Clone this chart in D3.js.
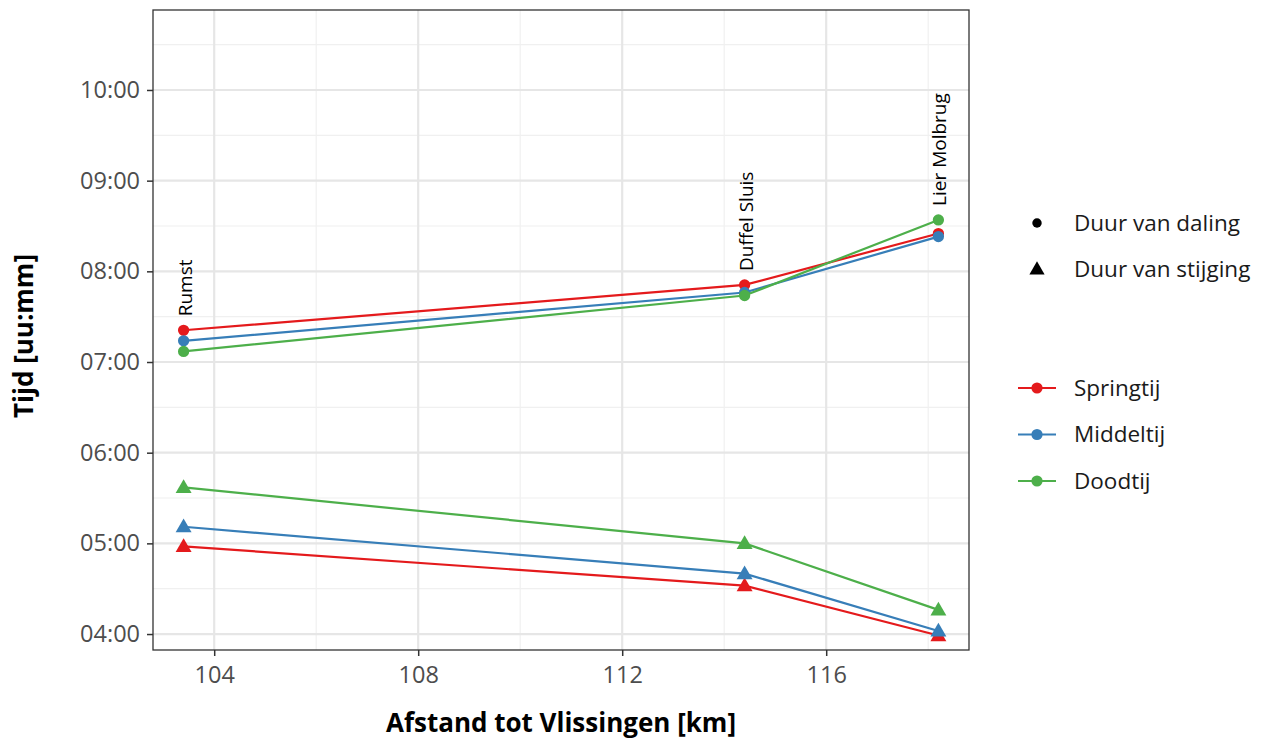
<!DOCTYPE html>
<html lang="nl">
<head>
<meta charset="utf-8">
<title>Duur van daling en stijging</title>
<script src="https://d3js.org/d3.v7.min.js"></script>
<style>
  body { margin: 0; background: #fff; }
  svg text { font-family: "Open Sans", "Noto Sans", sans-serif; }
</style>
</head>
<body>
<script>
// data: afstand (km) per meetpunt, tijden als uu:mm
var stations = ["Rumst", "Duffel Sluis", "Lier Molbrug"];
var km = [103.4, 114.4, 118.2];
var tides = ["Springtij", "Middeltij", "Doodtij"];
var tideColors = ["#E41A1C", "#377EB8", "#4DAF4A"];
var types = ["Duur van daling", "Duur van stijging"];

var dalingSpring = ["7:21", "7:51", "8:25"];
var dalingMiddel = ["7:14", "7:46", "8:23"];
var dalingDood   = ["7:07", "7:44", "8:34"];
var stijgingSpring = ["4:58", "4:32", "3:59"];
var stijgingMiddel = ["5:11", "4:40", "4:02"];
var stijgingDood   = ["5:37", "5:00", "4:16"];

var xTicks = [104, 108, 112, 116];
var yTicks = ["04:00", "05:00", "06:00", "07:00", "08:00", "09:00", "10:00"];

function toHours(s) {
  var p = s.split(":");
  return +p[0] + (+p[1]) / 60;
}

var series = [
  {tide: 0, type: 0, vals: dalingSpring},
  {tide: 1, type: 0, vals: dalingMiddel},
  {tide: 2, type: 0, vals: dalingDood},
  {tide: 0, type: 1, vals: stijgingSpring},
  {tide: 1, type: 1, vals: stijgingMiddel},
  {tide: 2, type: 1, vals: stijgingDood}
];
series.forEach(function(s) {
  s.points = s.vals.map(function(v, i) { return {x: km[i], y: toHours(v)}; });
});

var W = 1266, H = 745;
var panel = {left: 153, top: 10, right: 969, bottom: 650};

var x = d3.scaleLinear().domain([102.8, 118.8]).range([panel.left, panel.right]);
var y = d3.scaleLinear().domain([3.824, 10.882]).range([panel.bottom, panel.top]);

var svg = d3.select("body").append("svg").attr("width", W).attr("height", H);

// grid
var grid = svg.append("g");
var minorY = d3.range(4.5, 10.6, 1);
var minorX = [106, 110, 114, 118];
grid.selectAll(".my").data(minorY).enter().append("line")
  .attr("x1", panel.left).attr("x2", panel.right)
  .attr("y1", function(d) { return y(d); }).attr("y2", function(d) { return y(d); })
  .attr("stroke", "#f0f0f0").attr("stroke-width", 1.2);
grid.selectAll(".mx").data(minorX).enter().append("line")
  .attr("y1", panel.top).attr("y2", panel.bottom)
  .attr("x1", function(d) { return x(d); }).attr("x2", function(d) { return x(d); })
  .attr("stroke", "#f0f0f0").attr("stroke-width", 1.2);
grid.selectAll(".gy").data(yTicks).enter().append("line")
  .attr("x1", panel.left).attr("x2", panel.right)
  .attr("y1", function(d) { return y(toHours(d)); }).attr("y2", function(d) { return y(toHours(d)); })
  .attr("stroke", "#e6e6e6").attr("stroke-width", 2.2);
grid.selectAll(".gx").data(xTicks).enter().append("line")
  .attr("y1", panel.top).attr("y2", panel.bottom)
  .attr("x1", function(d) { return x(d); }).attr("x2", function(d) { return x(d); })
  .attr("stroke", "#e6e6e6").attr("stroke-width", 2.2);

// axes
var xAxis = d3.axisBottom(x).tickValues(xTicks).tickSize(6).tickPadding(6);
var yAxis = d3.axisLeft(y).tickValues(yTicks.map(toHours)).tickSize(6).tickPadding(7)
  .tickFormat(function(d, i) { return yTicks[i]; });

var gx = svg.append("g").attr("transform", "translate(0," + panel.bottom + ")").call(xAxis);
var gy = svg.append("g").attr("transform", "translate(" + panel.left + ",0)").call(yAxis);
[gx, gy].forEach(function(g) {
  g.select(".domain").remove();
  g.selectAll(".tick line").attr("stroke", "#333").attr("stroke-width", 1.5);
  g.selectAll(".tick text").attr("fill", "#4d4d4d").style("font-size", "23.5px");
});
gx.selectAll(".tick text").attr("y", 33).attr("dy", 0);

// lines + points
var line = d3.line().x(function(d) { return x(d.x); }).y(function(d) { return y(d.y); });
var sym = [d3.symbolCircle, d3.symbolTriangle];
var symSize = [100, 110];

var order = [0, 3, 1, 4, 2, 5];
order.forEach(function(k) {
  var s = series[k];
  var col = tideColors[s.tide];
  svg.append("path").datum(s.points)
    .attr("d", line).attr("fill", "none")
    .attr("stroke", col).attr("stroke-width", 2.2);
  svg.selectAll(null).data(s.points).enter().append("path")
    .attr("transform", function(d) { return "translate(" + x(d.x) + "," + (y(d.y) + (s.type ? 1 : 0)) + ")"; })
    .attr("d", d3.symbol().type(sym[s.type]).size(symSize[s.type]))
    .attr("fill", col);
});

// station labels above highest point
var dalingSets = [dalingSpring, dalingMiddel, dalingDood];
stations.forEach(function(name, i) {
  var top = d3.max(dalingSets, function(a) { return toHours(a[i]); });
  var px = x(km[i]) + 8, py = y(top) - 14;
  svg.append("text")
    .attr("transform", "translate(" + px + "," + py + ") rotate(-90)")
    .attr("text-anchor", "start")
    .style("font-size", "19px")
    .attr("fill", "#000")
    .text(name);
});

// panel border
svg.append("rect")
  .attr("x", panel.left).attr("y", panel.top)
  .attr("width", panel.right - panel.left).attr("height", panel.bottom - panel.top)
  .attr("fill", "none").attr("stroke", "#333").attr("stroke-width", 1.3);

// axis titles
svg.append("text")
  .attr("x", (panel.left + panel.right) / 2).attr("y", 732)
  .attr("text-anchor", "middle").style("font-size", "26px").style("font-weight", "bold")
  .text("Afstand tot Vlissingen [km]");
svg.append("text")
  .attr("transform", "translate(33,336) rotate(-90)")
  .attr("text-anchor", "middle").style("font-size", "26px").style("font-weight", "bold")
  .text("Tijd [uu:mm]");

// legends
var leg1 = svg.append("g");
types.forEach(function(t, i) {
  var ly = 223 + i * 46;
  leg1.append("path")
    .attr("transform", "translate(1037," + (ly + (i ? 1 : 0)) + ")")
    .attr("d", d3.symbol().type(sym[i]).size(i ? 100 : 70))
    .attr("fill", "#000");
  leg1.append("text").attr("x", 1074).attr("y", ly).attr("dy", "0.35em")
    .style("font-size", "22.5px").attr("fill", "#1a1a1a").text(t);
});

var leg2 = svg.append("g");
tides.forEach(function(t, i) {
  var ly = 388 + i * 46.5;
  leg2.append("line").attr("x1", 1018).attr("x2", 1056).attr("y1", ly).attr("y2", ly)
    .attr("stroke", tideColors[i]).attr("stroke-width", 2.2);
  leg2.append("circle").attr("cx", 1037).attr("cy", ly).attr("r", 5.6).attr("fill", tideColors[i]);
  leg2.append("text").attr("x", 1074).attr("y", ly).attr("dy", "0.35em")
    .style("font-size", "22.5px").attr("fill", "#1a1a1a").text(t);
});
</script>
</body>
</html>
